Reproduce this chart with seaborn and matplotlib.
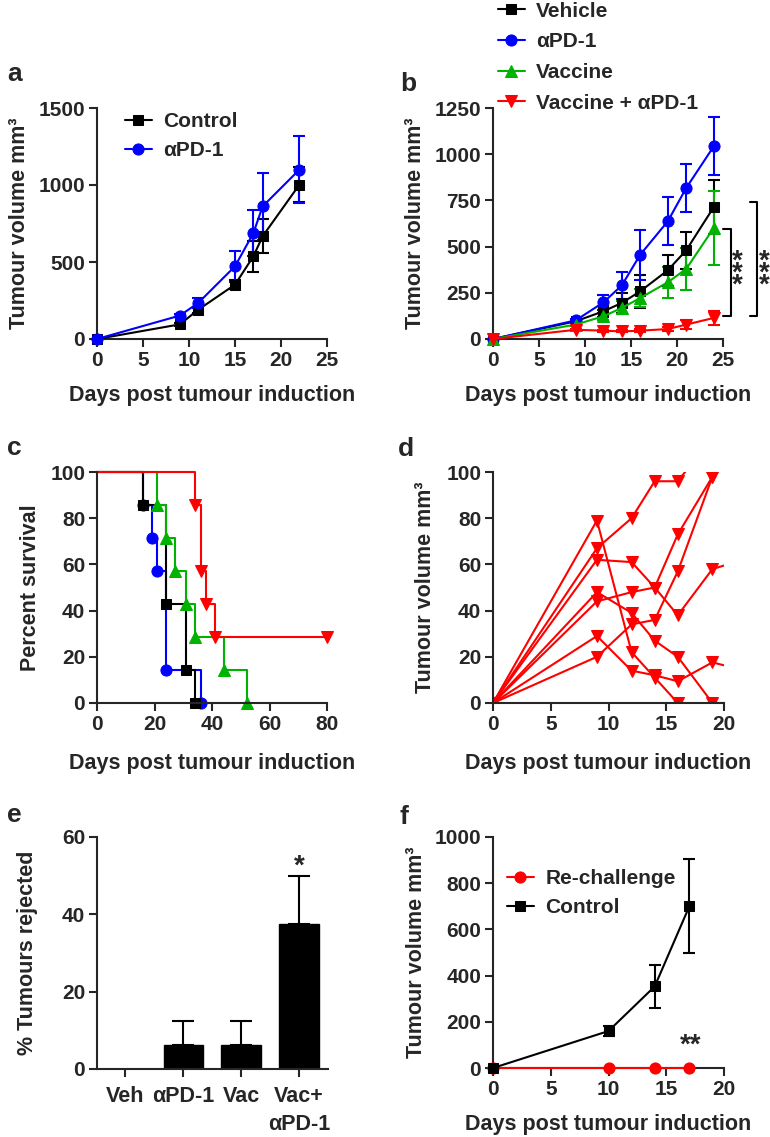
import numpy as np
import pandas as pd
import matplotlib
matplotlib.use('Agg')
import matplotlib.pyplot as plt
import seaborn as sns

sns.set_style('ticks')
plt.rcParams['font.family'] = ['Liberation Sans', 'DejaVu Sans']
plt.rcParams['font.weight'] = 'bold'
plt.rcParams['axes.labelweight'] = 'bold'

BLACK = '#000000'
BLUE = '#0000ff'
GREEN = '#00b300'
RED = '#ff0000'

# a - tumour growth, control vs aPD-1
a_days = [0, 9, 11, 15, 17, 18, 22]
a_control = [0, 95, 190, 353, 537, 667, 1002]
a_control_err = [0, 10, 20, 30, 100, 110, 115]
a_pd1 = [0, 152, 234, 472, 688, 861, 1100]
a_pd1_err = [0, 12, 30, 100, 150, 215, 220]

# b - tumour growth, four groups
b_days = [0, 9, 12, 14, 16, 19, 21, 24]
b_vehicle = [0, 96, 150, 195, 258, 372, 480, 714]
b_vehicle_err = [0, 8, 30, 55, 90, 85, 100, 148]
b_pd1 = [0, 101, 198, 290, 456, 637, 817, 1043]
b_pd1_err = [0, 8, 42, 75, 135, 130, 130, 158]
b_vaccine = [0, 78, 123, 168, 222, 307, 379, 601]
b_vaccine_err = [0, 8, 20, 35, 50, 85, 115, 200]
b_combo = [0, 50, 45, 41, 45, 54, 78, 114]
b_combo_err = [0, 5, 5, 5, 8, 10, 25, 40]

# c - survival (Kaplan-Meier steps)
c_vehicle_t = [0, 16, 24, 31, 34]
c_vehicle_s = [100, 85.7, 42.9, 14.3, 0]
c_pd1_t = [0, 16, 19, 21, 24, 36]
c_pd1_s = [100, 85.7, 71.4, 57.1, 14.3, 0]
c_vaccine_t = [0, 21, 24, 27, 31, 34, 44, 52]
c_vaccine_s = [100, 85.7, 71.4, 57.1, 42.9, 28.6, 14.3, 0]
c_combo_t = [0, 34, 36, 38, 41, 80]
c_combo_s = [100, 85.7, 57.1, 42.9, 28.6, 28.6]

# d - individual tumours, vaccine + aPD-1
d_mice = {
    'm1': ([0, 9, 12, 14, 16], [0, 79, 22, 11, 0]),
    'm2': ([0, 9, 12, 14, 16, 19], [0, 67, 80, 96, 96, 115]),
    'm3': ([0, 9, 12, 14, 16, 19, 21], [0, 62, 61, 50, 38, 58, 61]),
    'm4': ([0, 9, 12, 14, 16, 19, 21], [0, 48, 39, 27, 20, 0, 0]),
    'm5': ([0, 9, 12, 14, 16, 19], [0, 44, 48, 50, 73, 98]),
    'm6': ([0, 9, 12, 14, 16, 19, 21], [0, 29, 14, 12, 9.4, 17.6, 15]),
    'm7': ([0, 9, 12, 14, 16, 19], [0, 20, 34, 36, 57, 98]),
}

# e - % tumours rejected
e_groups = ['Veh', 'αPD-1', 'Vac', 'Vac+\nαPD-1']
e_values = [0, 6.25, 6.25, 37.5]
e_err = [0, 6.25, 6.25, 12.5]

# f - re-challenge
f_days = [0, 10, 14, 17]
f_rechallenge = [0, 0, 0, 0]
f_control = [0, 160, 353, 700]
f_control_err = [0, 20, 92, 203]

LABEL_FS = 15.5
TICK_FS = 15
LEG_FS = 15
STAR_FS = 20
LW = 1.5

fig = plt.figure(figsize=(7.7, 11.37), dpi=100)
W, H = 770, 1137


def make_ax(x0, x1, y_top, y_bot):
    return fig.add_axes([x0 / W, 1 - y_bot / H, (x1 - x0) / W, (y_bot - y_top) / H])


def style(ax, ylab, ylab_x, xlab_y=-0.2, xlab=True):
    sns.despine(ax=ax)
    for s in ['left', 'bottom']:
        ax.spines[s].set_linewidth(LW)
    ax.tick_params(width=LW, length=6, labelsize=TICK_FS, pad=2.5)
    for t in ax.get_xticklabels() + ax.get_yticklabels():
        t.set_fontweight('bold')
    ax.set_ylabel(ylab, fontsize=LABEL_FS, fontweight='bold')
    ax.yaxis.set_label_coords(ylab_x, 0.5)
    if xlab:
        ax.set_xlabel('Days post tumour induction', fontsize=LABEL_FS, fontweight='bold')
        ax.xaxis.set_label_coords(0.5, xlab_y)
    else:
        ax.set_xlabel('')


def series(ax, x, y, err, color, marker, ms, label=None):
    sns.lineplot(x=x, y=y, color=color, marker=marker, markersize=ms,
                 markeredgecolor=color, linewidth=LW, label=label, ax=ax,
                 clip_on=False, legend=False, zorder=3)
    ax.errorbar(x[1:], y[1:], yerr=err[1:], fmt='none', ecolor=color,
                elinewidth=LW, capsize=4, capthick=LW, clip_on=False, zorder=2)


def legend(ax, x, y, spacing):
    ax.legend(loc='upper left', bbox_to_anchor=(x, y), frameon=False,
              fontsize=LEG_FS, handlelength=1.3, handletextpad=0.55,
              labelspacing=spacing, borderpad=0, borderaxespad=0)


def stars(ax, x, y, s, linespacing=1.0):
    ax.text(x, y, s, ha='center', va='baseline', fontsize=STAR_FS,
            fontweight='bold', linespacing=linespacing, clip_on=False)


# ---------- a ----------
ax = make_ax(97, 327, 108, 339)
series(ax, a_days, a_control, a_control_err, BLACK, 's', 7, 'Control')
series(ax, a_days, a_pd1, a_pd1_err, BLUE, 'o', 8, 'αPD-1')
ax.set_xlim(0, 25)
ax.set_ylim(0, 1500)
ax.set_xticks(range(0, 26, 5))
ax.set_yticks([0, 500, 1000, 1500])
style(ax, 'Tumour volume mm³', -0.29)
legend(ax, 0.12, 0.983, 0.48)

# ---------- b ----------
ax = make_ax(493, 723, 108, 339)
series(ax, b_days, b_vehicle, b_vehicle_err, BLACK, 's', 7, 'Vehicle')
series(ax, b_days, b_pd1, b_pd1_err, BLUE, 'o', 8, 'αPD-1')
series(ax, b_days, b_vaccine, b_vaccine_err, GREEN, '^', 8, 'Vaccine')
series(ax, b_days, b_combo, b_combo_err, RED, 'v', 8, 'Vaccine + αPD-1')
ax.set_xlim(0, 25)
ax.set_ylim(0, 1250)
ax.set_xticks(range(0, 26, 5))
ax.set_yticks(range(0, 1251, 250))
style(ax, 'Tumour volume mm³', -0.29)
legend(ax, 0.02, 1.46, 0.56)
ax.plot([25.0, 25.9, 25.9, 25.0], [595, 595, 123, 123], color=BLACK, lw=LW, clip_on=False)
ax.plot([27.9, 28.7, 28.7, 27.9], [740, 740, 123, 123], color=BLACK, lw=LW, clip_on=False)
stars(ax, 26.5, 249, '*\n*\n*', linespacing=0.31)
stars(ax, 29.45, 249, '*\n*\n*', linespacing=0.31)

# ---------- c ----------
ax = make_ax(97, 327, 472, 703)
for t, s, col, mk, ms in [(c_pd1_t, c_pd1_s, BLUE, 'o', 8),
                          (c_vehicle_t, c_vehicle_s, BLACK, 's', 7),
                          (c_vaccine_t, c_vaccine_s, GREEN, '^', 8),
                          (c_combo_t, c_combo_s, RED, 'v', 8)]:
    sns.lineplot(x=t, y=s, color=col, marker=mk, markersize=ms, markeredgecolor=col,
                 drawstyle='steps-post', markevery=list(range(1, len(t))),
                 linewidth=LW, ax=ax, clip_on=False, legend=False)
ax.set_xlim(0, 80)
ax.set_ylim(0, 100)
ax.set_xticks(range(0, 81, 20))
ax.set_yticks(range(0, 101, 20))
style(ax, 'Percent survival', -0.245, -0.215)

# ---------- d ----------
ax = make_ax(493, 724, 472, 703)
rows = []
for m, (days, vols) in d_mice.items():
    for dd, vv in zip(days, vols):
        rows.append({'mouse': m, 'day': dd, 'vol': vv})
d_df = pd.DataFrame(rows)
sns.lineplot(data=d_df, x='day', y='vol', units='mouse', estimator=None,
             color=RED, marker='v', markersize=8, markeredgecolor=RED,
             linewidth=LW, ax=ax, legend=False)
ax.set_xlim(0, 20)
ax.set_ylim(0, 100)
ax.set_xticks(range(0, 21, 5))
ax.set_yticks(range(0, 101, 20))
style(ax, 'Tumour volume mm³', -0.245, -0.215)

# ---------- e ----------
ax = make_ax(97, 328, 837, 1069)
e_df = pd.DataFrame({'group': e_groups, 'value': e_values})
sns.barplot(data=e_df, x='group', y='value', color=BLACK, width=0.68,
            saturation=1, ax=ax, edgecolor=BLACK)
idx = [i for i, v in enumerate(e_err) if v > 0]
ax.errorbar(idx, [e_values[i] for i in idx],
            yerr=[[0] * len(idx), [e_err[i] for i in idx]],
            fmt='none', ecolor=BLACK, elinewidth=LW, capsize=8, capthick=LW)
stars(ax, 3, 50.4, '*')
ax.set_xlim(-0.49, 3.5)
ax.set_ylim(0, 60)
ax.set_yticks([0, 20, 40, 60])
style(ax, '% Tumours rejected', -0.255, xlab=False)
ax.tick_params(axis='x', labelsize=LABEL_FS, pad=6)
for t in ax.get_xticklabels():
    t.set_linespacing(1.45)

# ---------- f ----------
ax = make_ax(493, 724, 837, 1068)
series(ax, f_days, f_rechallenge, [0, 0, 0, 0], RED, 'o', 8, 'Re-challenge')
series(ax, f_days, f_control, f_control_err, BLACK, 's', 7, 'Control')
stars(ax, 17.15, 65, '**')
ax.set_xlim(0, 20)
ax.set_ylim(0, 1000)
ax.set_xticks(range(0, 21, 5))
ax.set_yticks(range(0, 1001, 200))
style(ax, 'Tumour volume mm³', -0.285)
legend(ax, 0.06, 0.861, 0.48)

# panel letters
for letter, x, y in [('a', 7, 81), ('b', 400, 91), ('c', 7, 455),
                     ('d', 398, 456), ('e', 7, 822), ('f', 399, 824)]:
    fig.text(x / W, 1 - y / H, letter, fontsize=19, fontweight='bold',
             ha='left', va='baseline')

fig.savefig('out.png', dpi=100)
